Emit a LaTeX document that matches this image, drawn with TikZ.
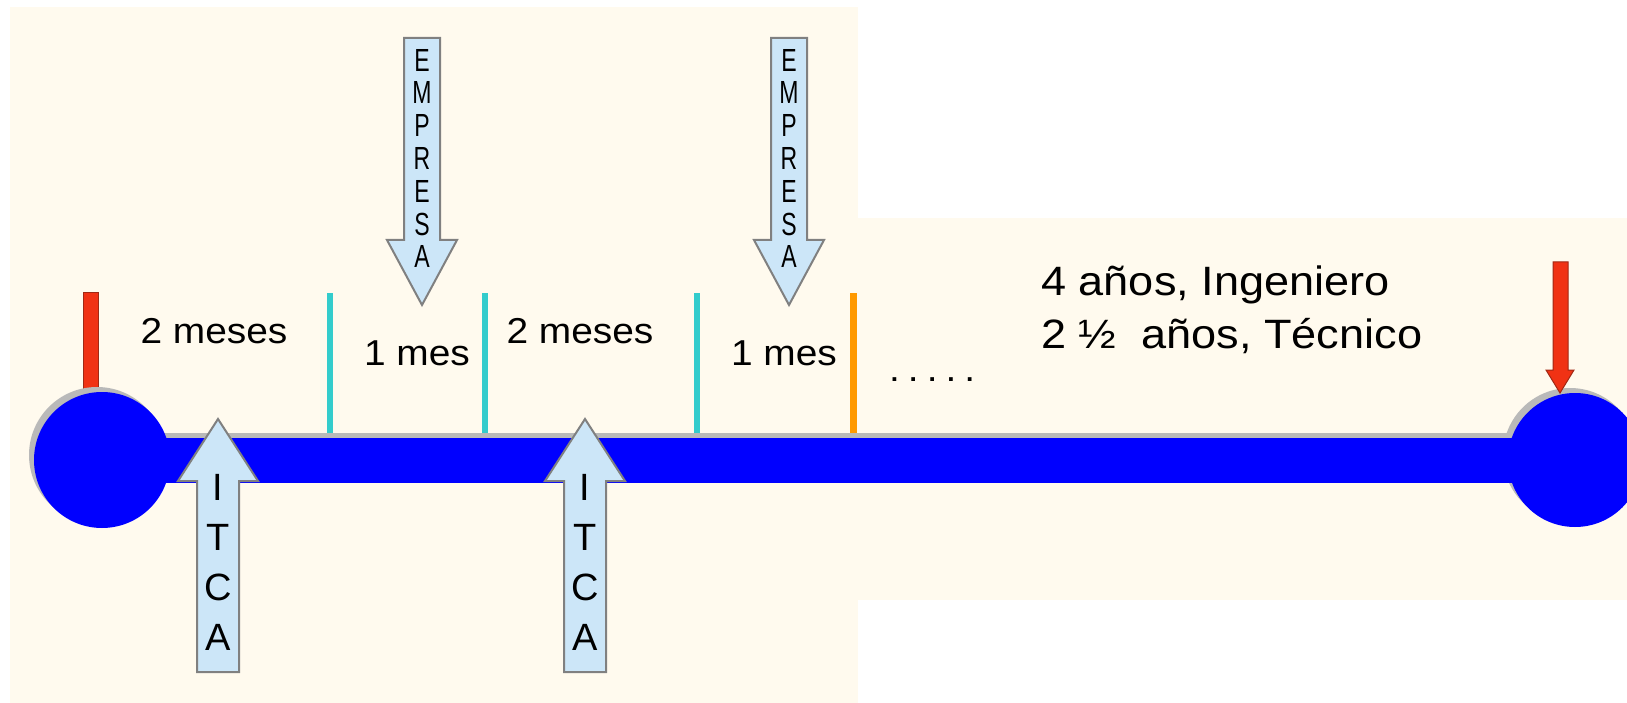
\documentclass[tikz,border=0pt]{standalone}
\usepackage{fontspec}
\setmainfont{Liberation Sans}
\newfontfamily\narrowfont[FakeStretch=0.72]{Liberation Sans}
\newfontfamily\widefont[FakeStretch=1.08]{Liberation Sans}
\newfontfamily\widerfont[FakeStretch=1.1]{Liberation Sans}
\definecolor{cream}{RGB}{255,250,238}
\definecolor{barblue}{RGB}{0,0,255}
\definecolor{shadowgray}{RGB}{185,185,185}
\definecolor{tickcyan}{RGB}{51,204,204}
\definecolor{tickorange}{RGB}{255,153,0}
\definecolor{arrowfill}{RGB}{204,230,248}
\definecolor{arrowline}{RGB}{128,128,128}
\definecolor{redfill}{RGB}{240,50,20}
\definecolor{redline}{RGB}{160,40,20}
\begin{document}
\begin{tikzpicture}[x=1pt,y=-1pt,
  lbl/.style={font=\widefont\fontsize{36}{43}\selectfont, inner sep=0pt, anchor=base},
  bigtxt/.style={font=\widerfont\fontsize{41}{48}\selectfont, inner sep=0pt, anchor=base west},
  itcaletter/.style={font=\fontsize{38}{40}\selectfont, inner sep=0pt},
  empletter/.style={font=\narrowfont\fontsize{32}{34}\selectfont, inner sep=0pt},
  fatarrow/.style={fill=arrowfill, draw=arrowline, line width=2pt, line join=miter},
  redmark/.style={fill=redfill, draw=redline, line width=1pt},
  tick/.style={line width=6pt}]
\useasboundingbox (0,0) rectangle (1627,703);
\fill[white] (0,0) rectangle (1627,703);
\fill[cream] (10,7) rectangle (858,703);
\fill[cream] (858,218) rectangle (1627,600);
% left red marker
\draw[redmark] (83,292) rectangle (98,396);
% ticks
\draw[tick, tickcyan] (330,293) -- (330,433);
\draw[tick, tickcyan] (485,293) -- (485,433);
\draw[tick, tickcyan] (697,293) -- (697,433);
\draw[tick, tickorange, line width=7pt] (853,293) -- (853,433);
% shadow
\begin{scope}[shift={(-5,-5)}]
  \fill[shadowgray] (102,460) circle[radius=68];
  \fill[shadowgray] (102,438) rectangle (1575,483);
  \fill[shadowgray] (1575,460) circle[radius=67];
\end{scope}
% timeline
\fill[barblue] (102,460) circle[radius=68];
\fill[barblue] (102,438) rectangle (1575,483);
\fill[barblue] (1575,460) circle[radius=67];
% right red arrow
\draw[redmark] (1553,262) -- (1568,262) -- (1568,370) -- (1574,370) -- (1560,393)
  -- (1546,370) -- (1553,370) -- cycle;
% ITCA arrows
\foreach \c [count=\k] in {218,585} {
  \draw[fatarrow] ({\c-21},672) -- ({\c-21},481) -- ({\c-40},481) -- (\c,419)
    -- ({\c+40},481) -- ({\c+21},481) -- ({\c+21},672) -- cycle;
  \foreach \l [count=\i] in {I,T,C,A}
    \node[itcaletter] (itca\k-\i) at (\c,{487+50*(\i-1)}) {\l};
}
% EMPRESA arrows
\foreach \c [count=\k] in {422,789} {
  \draw[fatarrow] ({\c-18},38) -- ({\c+18},38) -- ({\c+18},240) -- ({\c+35},240)
    -- (\c,305) -- ({\c-35},240) -- ({\c-18},240) -- cycle;
  \foreach \l [count=\i] in {E,M,P,R,E,S,A}
    \node[empletter] (emp\k-\i) at (\c,{60+32.8*(\i-1)}) {\l};
}
% labels
\node[lbl] (m1) at (214,343) {2 meses};
\node[lbl] (m2) at (417,365) {1 mes};
\node[lbl] (m3) at (580,343) {2 meses};
\node[lbl] (m4) at (784,365) {1 mes};
\node[lbl, anchor=base west] (dots) at (889,381) {.\hspace{8pt}.\hspace{8pt}.\hspace{8pt}.\hspace{8pt}.};
\node[bigtxt] (ing) at (1041,295) {4 años, Ingeniero};
\node[bigtxt] (tec) at (1041,348) {2 ½\ \ años, Técnico};
\end{tikzpicture}
\end{document}
